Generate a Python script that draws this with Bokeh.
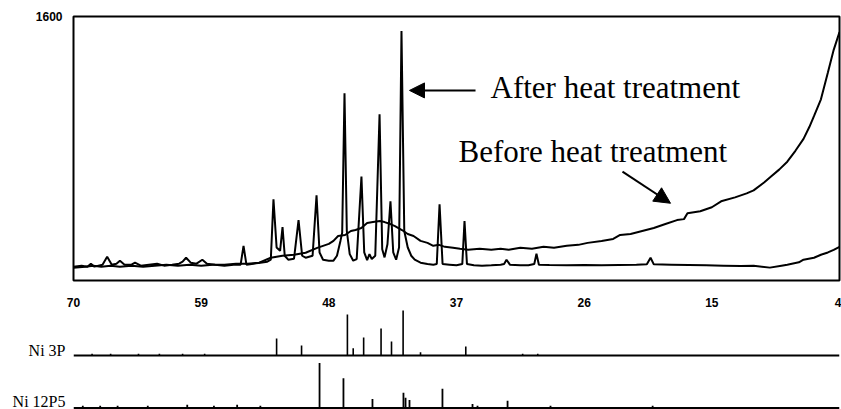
from bokeh.plotting import figure
from bokeh.models import Range1d, FixedTicker, Label, Arrow, NormalHead, Span
from bokeh.layouts import column
from bokeh.embed import file_html
from bokeh.resources import INLINE

# ---------------- data ----------------
x_ticks = [70, 59, 48, 37, 26, 15, 4]
y_ticks = [1600]

after_2theta = [70.0, 69.3, 68.8, 68.5, 68.2, 67.5, 67.1, 66.7, 66.3, 66.0, 65.6, 65.0, 64.7, 64.2,
                63.5, 62.8, 62.2, 61.5, 60.9, 60.6, 60.3, 59.9, 59.4, 58.9, 58.5, 57.8, 57.0, 56.2,
                55.6, 55.35, 55.1, 54.5, 53.9, 53.3, 53.0, 52.77, 52.5, 52.2, 51.99, 51.8, 51.5, 51.0,
                50.61, 50.3, 50.0, 49.4, 49.06, 48.8, 48.5, 48.0, 47.6, 47.3, 47.0, 46.85, 46.65,
                46.45, 46.2, 45.9, 45.6, 45.19, 44.95, 44.7, 44.5, 44.3, 44.0, 43.63, 43.4, 43.2,
                42.95, 42.69, 42.45, 42.2, 41.95, 41.74, 41.5, 41.2, 40.9, 40.6, 40.1, 39.5, 39.0,
                38.7, 38.46, 38.2, 37.6, 37.0, 36.5, 36.31, 36.1, 35.5, 34.8, 34.0, 33.2, 32.9,
                32.69, 32.4, 31.5, 30.8, 30.3, 30.11, 29.9, 29.0, 27.5, 26.0, 24.5, 23.0, 21.5,
                20.6, 20.28, 20.0, 18.5, 17.0, 15.5, 14.0, 12.5, 11.4, 10.0, 9.0, 8.5, 7.5, 7.1,
                6.2, 5.6, 5.0, 4.5, 4.0]
after_counts = [84, 90, 84, 102, 84, 96, 144, 96, 102, 120, 96, 96, 108, 90,
                96, 102, 90, 96, 102, 114, 138, 108, 102, 126, 102, 96, 90, 96,
                96, 210, 96, 102, 108, 114, 126, 492, 200, 180, 324, 150, 126, 132,
                366, 150, 138, 150, 516, 170, 126, 120, 120, 150, 240, 290, 1134,
                300, 160, 120, 130, 630, 170, 124, 160, 130, 150, 1008, 190, 140,
                220, 480, 170, 126, 200, 1512, 300, 200, 150, 126, 108, 100, 96,
                100, 462, 100, 96, 92, 100, 360, 100, 92, 90, 92, 96, 100,
                126, 96, 92, 92, 100, 162, 96, 94, 92, 94, 92, 94, 96,
                98, 138, 98, 96, 94, 92, 90, 88, 90, 78, 90, 96, 110, 126,
                138, 156, 170, 186, 204]

before_2theta = [70.0, 69.0, 68.3, 67.6, 66.8, 66.0, 65.0, 64.0, 63.0, 62.0, 61.0, 60.0, 59.0,
                 58.0, 57.0, 56.0, 55.0, 54.0, 53.0, 52.0, 51.0, 50.0, 49.0, 48.0, 47.6, 47.2,
                 46.6, 46.1, 45.7, 45.2, 44.7, 44.2, 43.6, 43.2, 42.7, 42.3, 41.7, 41.2, 40.7,
                 40.1, 39.5, 39.0, 38.5, 38.0, 37.3, 36.7, 36.0, 35.0, 34.0, 33.2, 32.5, 31.5,
                 30.5, 29.5, 28.6, 27.5, 26.5, 25.7, 24.5, 23.5, 22.9, 22.0, 21.0, 20.0, 19.0,
                 18.0, 17.4, 17.1, 16.0, 15.0, 14.2, 13.0, 12.0, 11.4, 10.5, 9.9, 9.2, 8.5, 7.8,
                 7.1, 6.6, 6.2, 5.6, 5.0, 4.5, 4.0]
before_counts = [78, 84, 90, 84, 90, 84, 90, 84, 90, 96, 90, 96, 90,
                 96, 96, 102, 102, 108, 138, 150, 156, 168, 198, 222, 240, 270,
                 276, 300, 306, 318, 348, 354, 360, 354, 342, 330, 306, 282, 270,
                 240, 228, 210, 216, 204, 198, 192, 186, 192, 186, 192, 186, 198,
                 192, 204, 198, 210, 216, 228, 240, 252, 276, 282, 300, 318, 342,
                 366, 372, 408, 420, 444, 480, 504, 528, 546, 594, 630, 672, 720, 786,
                 858, 930, 996, 1098, 1260, 1398, 1506]

ni3p_pos = [68.4, 66.8, 64.4, 62.6, 60.6, 58.7, 52.5, 50.35, 46.4, 45.9, 45.0, 43.5, 42.6,
            41.6, 40.1, 36.2, 31.3, 30.0]
ni3p_rel = [4, 4, 4, 4, 4, 4, 38, 22, 91, 16, 40, 60, 31, 100, 7, 20, 4, 4]

ni12p5_pos = [69.2, 67.7, 66.2, 63.6, 60.2, 57.9, 55.9, 53.9, 48.8, 46.74, 44.24, 41.57, 41.39,
              41.05, 38.21, 35.62, 35.19, 32.6, 28.9, 20.1]
ni12p5_rel = [5, 5, 5, 5, 7, 5, 7, 5, 100, 66, 20, 34, 23, 18, 43, 9, 5, 16, 5, 5]

pattern_names = ["Ni 3P", "Ni 12P5"]

# ---------------- main diffractogram ----------------
xr = Range1d(70, 4)
p1 = figure(width=841, height=309, x_range=xr, y_range=Range1d(0, 1600),
            output_backend="svg", toolbar_location=None,
            min_border_left=73, min_border_right=2, min_border_top=16, min_border_bottom=26)
p1.grid.visible = False
p1.outline_line_color = "black"
p1.outline_line_width = 2
p1.outline_line_alpha = 1.0

p1.xaxis.ticker = FixedTicker(ticks=x_ticks)
p1.yaxis.ticker = FixedTicker(ticks=y_ticks)
for ax in (p1.xaxis, p1.yaxis):
    ax.axis_line_color = None
    ax.major_tick_line_color = None
    ax.minor_tick_line_color = None
    ax.major_label_text_font = "Liberation Sans"
    ax.major_label_text_font_style = "bold"
    ax.major_label_text_font_size = "12px"
    ax.major_label_text_color = "black"
p1.xaxis.major_label_standoff = 11
p1.yaxis.major_label_standoff = 5

p1.line(before_2theta, before_counts, line_color="black", line_width=2)
p1.line(after_2theta, after_counts, line_color="black", line_width=2)

serif = "Liberation Serif"
p1.add_layout(Label(x=34.07, y=1170, text="After heat treatment", text_font=serif,
                    text_font_size="31px", text_color="black", text_baseline="alphabetic"))
p1.add_layout(Label(x=36.83, y=782, text="Before heat treatment", text_font=serif,
                    text_font_size="31px", text_color="black", text_baseline="alphabetic"))
p1.add_layout(Arrow(x_start=35.36, y_start=1152, x_end=41.05, y_end=1152, line_width=2,
                    end=NormalHead(size=15, fill_color="black", line_color="black")))
p1.add_layout(Arrow(x_start=22.70, y_start=660, x_end=18.56, y_end=468, line_width=2,
                    end=NormalHead(size=16, fill_color="black", line_color="black")))

# ---------------- reference stick patterns ----------------
p2 = figure(width=841, height=100, x_range=xr, y_range=Range1d(0, 100),
            output_backend="svg", toolbar_location=None,
            min_border_left=73, min_border_right=2, min_border_top=0, min_border_bottom=0)
p2.grid.visible = False
p2.outline_line_color = None
p2.xaxis.visible = False

base_3p, base_12p5 = 54, 1.5
scale = 0.45
p2.add_layout(Span(location=base_3p, dimension="width", line_color="black", line_width=2))
p2.add_layout(Span(location=base_12p5, dimension="width", line_color="black", line_width=2))
p2.segment(x0=ni3p_pos, y0=[base_3p] * len(ni3p_pos), x1=ni3p_pos,
           y1=[base_3p + r * scale for r in ni3p_rel], line_color="black", line_width=1.6)
p2.segment(x0=ni12p5_pos, y0=[base_12p5] * len(ni12p5_pos), x1=ni12p5_pos,
           y1=[base_12p5 + r * scale for r in ni12p5_rel], line_color="black", line_width=1.8)

p2.yaxis.ticker = FixedTicker(ticks=[59, 7])
p2.yaxis.major_label_overrides = {59: pattern_names[0], 7: pattern_names[1]}
p2.yaxis.axis_line_color = None
p2.yaxis.major_tick_line_color = None
p2.yaxis.minor_tick_line_color = None
p2.yaxis.major_label_standoff = 2
p2.yaxis.major_label_text_font = serif
p2.yaxis.major_label_text_font_size = "16px"
p2.yaxis.major_label_text_color = "black"

layout = column(p1, p2, spacing=0)
open("out.html", "w").write(file_html(layout, INLINE))
